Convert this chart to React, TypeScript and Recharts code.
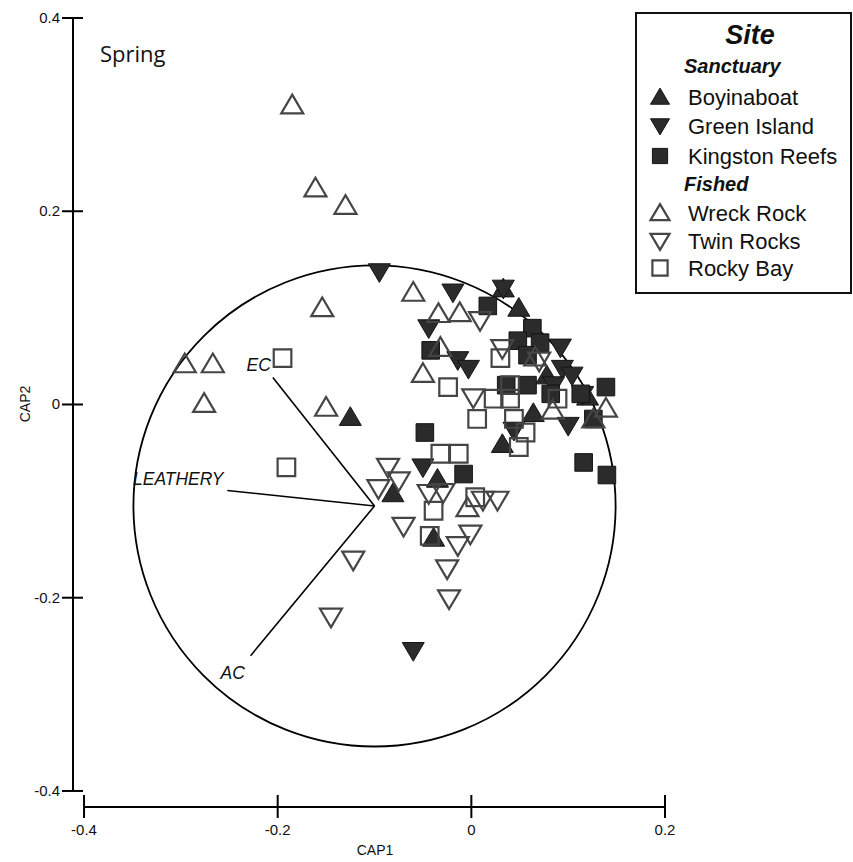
import React from 'react';
import {
  ScatterChart,
  Scatter,
  XAxis,
  YAxis,
  ReferenceLine,
  ReferenceArea,
  ReferenceDot,
} from 'recharts';

// Axis ticks
const xTicks = [-0.4, -0.2, 0, 0.2];
const yTicks = [0.4, 0.2, 0, -0.2, -0.4];

// CAP scores per site, [CAP1, CAP2]
const boyinaboat: [number, number][] = [
  [-0.125, -0.013], [-0.081, -0.092], [-0.035, -0.077], [-0.039, -0.138],
  [0.033, 0.12], [0.049, 0.1], [0.064, -0.009], [0.032, -0.041],
  [0.12, 0.008], [0.078, 0.03],
];
const greenIsland: [number, number][] = [
  [-0.095, 0.137], [-0.019, 0.116], [0.033, 0.12], [-0.044, 0.079],
  [0.092, 0.059], [-0.014, 0.046], [-0.003, 0.037], [0.094, 0.037],
  [0.104, 0.03], [0.1, -0.022], [0.044, -0.027], [-0.05, -0.065],
  [-0.06, -0.255], [0.085, 0.02], [0.115, 0.01],
];
const kingstonReefs: [number, number][] = [
  [0.017, 0.102], [0.063, 0.079], [0.048, 0.066], [0.071, 0.064],
  [-0.042, 0.056], [0.058, 0.051], [0.058, 0.02], [0.036, 0.02],
  [0.139, 0.018], [0.082, 0.011], [0.113, 0.011], [0.126, -0.015],
  [-0.048, -0.029], [0.116, -0.06], [0.14, -0.073], [-0.008, -0.072],
];
const wreckRock: [number, number][] = [
  [-0.185, 0.31], [-0.161, 0.224], [-0.13, 0.206], [-0.154, 0.1],
  [-0.296, 0.042], [-0.267, 0.042], [-0.276, 0.001], [-0.15, -0.003],
  [-0.06, 0.116], [-0.034, 0.094], [-0.012, 0.095], [-0.032, 0.059],
  [0.066, 0.049], [-0.05, 0.032], [0.139, -0.004], [0.084, -0.006],
  [0.126, -0.015], [-0.004, -0.107],
];
const twinRocks: [number, number][] = [
  [-0.086, -0.065], [-0.075, -0.079], [-0.096, -0.087], [-0.044, -0.092],
  [-0.029, -0.091], [0.012, -0.099], [0.027, -0.099], [-0.07, -0.126],
  [-0.001, -0.134], [-0.014, -0.146], [-0.025, -0.17], [-0.023, -0.201],
  [-0.122, -0.161], [-0.145, -0.22], [0.009, 0.087], [0.032, 0.058],
  [0.07, 0.045], [0.002, 0.007],
];
const rockyBay: [number, number][] = [
  [-0.195, 0.048], [-0.191, -0.065], [-0.024, 0.018], [0.04, 0.02],
  [0.023, 0.006], [0.04, 0.006], [0.089, 0.006], [0.006, -0.015],
  [0.044, -0.015], [0.056, -0.029], [0.049, -0.044], [-0.032, -0.051],
  [-0.013, -0.051], [-0.039, -0.11], [0.004, -0.096], [-0.043, -0.136],
  [0.03, 0.048],
];

// Environmental vectors (end points) and the correlation circle
const vectorNames = ['EC', 'LEATHERY', 'AC'];
const vectorEnds: [number, number][] = [
  [-0.205, 0.028], [-0.252, -0.089], [-0.228, -0.26],
];
const vectorLabelPos: [number, number][] = [
  [-0.207, 0.042], [-0.256, -0.076], [-0.2465, -0.277],
];
const circleCentre: [number, number] = [-0.1, -0.105];
const circleRadius = 0.249;

const X_MIN = -0.4114;
const Y_MIN = -0.4166;

const FONT = '"Liberation Sans", Arial, sans-serif';
const FILL_DARK = '#2b2b2b';
const OPEN_STROKE = '#454545';

const toPoints = (arr: [number, number][]) => arr.map(([x, y]) => ({ x, y }));

type Kind = 'up' | 'down' | 'square';

const markerPath = (kind: Kind, cx: number, cy: number, s: number) => {
  if (kind === 'square') {
    const h = s * 0.4;
    return `M${cx - h},${cy - h}H${cx + h}V${cy + h}H${cx - h}Z`;
  }
  const w = s / 2;
  const t = s * 0.47;
  const b = s * 0.38;
  if (kind === 'up') return `M${cx},${cy - t}L${cx + w},${cy + b}L${cx - w},${cy + b}Z`;
  return `M${cx},${cy + t}L${cx + w},${cy - b}L${cx - w},${cy - b}Z`;
};

const Marker = ({ kind, filled, cx, cy, size = 22 }: any) => (
  <path
    d={markerPath(kind, cx, cy, size)}
    fill={filled ? FILL_DARK : 'none'}
    stroke={filled ? '#151515' : OPEN_STROKE}
    strokeWidth={filled ? 1 : 2.2}
    strokeLinejoin="miter"
  />
);

const series = [
  { name: 'Boyinaboat', data: boyinaboat, kind: 'up' as Kind, filled: true },
  { name: 'Green Island', data: greenIsland, kind: 'down' as Kind, filled: true },
  { name: 'Kingston Reefs', data: kingstonReefs, kind: 'square' as Kind, filled: true },
  { name: 'Wreck Rock', data: wreckRock, kind: 'up' as Kind, filled: false },
  { name: 'Twin Rocks', data: twinRocks, kind: 'down' as Kind, filled: false },
  { name: 'Rocky Bay', data: rockyBay, kind: 'square' as Kind, filled: false },
];

const XTick = (props: any) => {
  const { x, y, payload } = props;
  return (
    <g>
      <line x1={x} x2={x} y1={y - 12} y2={y + 11} stroke="#000" strokeWidth={2} />
      <text x={x} y={y + 28} textAnchor="middle" fontSize={15} fontFamily={FONT} fill="#111">
        {String(payload.value)}
      </text>
    </g>
  );
};

const YTick = (props: any) => {
  const { x, y, payload } = props;
  return (
    <g>
      <line x1={x - 11} x2={x + 10} y1={y} y2={y} stroke="#000" strokeWidth={2} />
      <text x={x - 13} y={y + 5} textAnchor="end" fontSize={15} fontFamily={FONT} fill="#111">
        {String(payload.value)}
      </text>
    </g>
  );
};

const Ellipse = (p: any) => (
  <ellipse
    cx={p.x + p.width / 2}
    cy={p.y + p.height / 2}
    rx={Math.abs(p.width) / 2}
    ry={Math.abs(p.height) / 2}
    fill="none"
    stroke="#000"
    strokeWidth={1.8}
  />
);

const VectorLabel = (text: string, anchor: 'end' | 'middle') => (p: any) => (
  <text
    x={p.cx}
    y={p.cy + 7}
    textAnchor={anchor}
    fontSize={17.5}
    fontStyle="italic"
    fontFamily={FONT}
    fill="#111"
  >
    {text}
  </text>
);

const legendGroups = [
  { title: 'Sanctuary', items: series.slice(0, 3) },
  { title: 'Fished', items: series.slice(3) },
];

const SiteLegend = () => {
  const rowY = [52, 83, 112, 142, 170, 199, 227, 254];
  let i = 0;
  const rows: React.ReactNode[] = [];
  legendGroups.forEach((g) => {
    rows.push(
      <text key={g.title} x={47} y={rowY[i] + 7} fontSize={20} fontWeight="bold" fontStyle="italic" fontFamily={FONT} fill="#111">
        {g.title}
      </text>
    );
    i++;
    g.items.forEach((s) => {
      const cy = rowY[i];
      rows.push(
        <g key={s.name}>
          <Marker kind={s.kind} filled={s.filled} cx={23} cy={cy} size={19} />
          <text x={51} y={cy + 8} fontSize={22} fontFamily={FONT} fill="#111">
            {s.name}
          </text>
        </g>
      );
      i++;
    });
  });
  return (
    <div
      style={{
        position: 'absolute',
        left: 635,
        top: 12,
        width: 213,
        height: 278,
        border: '2px solid #111',
        background: '#fff',
      }}
    >
      <svg width={213} height={278}>
        <text x={113} y={30} textAnchor="middle" fontSize={27} fontWeight="bold" fontStyle="italic" fontFamily={FONT} fill="#111">
          Site
        </text>
        {rows}
      </svg>
    </div>
  );
};

export default function App() {
  return (
    <div style={{ position: 'absolute', left: 0, top: 0, width: 853, height: 862, background: '#fff' }}>
      <ScatterChart width={853} height={862} margin={{ top: 18, right: 188, bottom: 15, left: 13 }}>
        <XAxis
          type="number"
          dataKey="x"
          domain={[X_MIN, 0.2]}
          ticks={xTicks}
          interval={0}
          height={40}
          axisLine={false}
          tickLine={false}
          tickSize={0}
          tickMargin={0}
          tick={<XTick />}
          label={{
            content: (p: any) => {
              const vb = p.viewBox;
              return (
                <text x={vb.x + vb.width / 2 + 6} y={vb.y + 48} textAnchor="middle" fontSize={14} fontFamily={FONT} fill="#111">
                  CAP1
                </text>
              );
            },
          }}
        />
        <YAxis
          type="number"
          dataKey="y"
          domain={[Y_MIN, 0.4]}
          ticks={yTicks}
          interval={0}
          width={60}
          axisLine={false}
          tickLine={false}
          tickSize={0}
          tickMargin={0}
          tick={<YTick />}
          label={{
            content: (p: any) => {
              const vb = p.viewBox;
              const lx = vb.x + vb.width - 43;
              const ly = vb.y + 386;
              return (
                <text x={lx} y={ly} transform={`rotate(-90 ${lx} ${ly})`} textAnchor="middle" fontSize={14} fontFamily={FONT} fill="#111">
                  CAP2
                </text>
              );
            },
          }}
        />

        {/* axis lines */}
        <ReferenceLine segment={[{ x: X_MIN, y: -0.4 }, { x: X_MIN, y: 0.4 }]} stroke="#000" strokeWidth={2} />
        <ReferenceLine segment={[{ x: -0.4, y: Y_MIN }, { x: 0.2, y: Y_MIN }]} stroke="#000" strokeWidth={2} />

        {/* correlation circle */}
        <ReferenceArea
          x1={circleCentre[0] - circleRadius}
          x2={circleCentre[0] + circleRadius}
          y1={circleCentre[1] - circleRadius}
          y2={circleCentre[1] + circleRadius}
          shape={<Ellipse />}
        />

        {/* vectors */}
        {vectorEnds.map(([vx, vy], k) => (
          <ReferenceLine
            key={vectorNames[k]}
            segment={[{ x: circleCentre[0], y: circleCentre[1] }, { x: vx, y: vy }]}
            stroke="#000"
            strokeWidth={1.6}
          />
        ))}
        {vectorLabelPos.map(([lx, ly], k) => (
          <ReferenceDot
            key={'lab' + vectorNames[k]}
            x={lx}
            y={ly}
            r={0}
            shape={VectorLabel(vectorNames[k], k === 2 ? 'middle' : 'end')}
          />
        ))}

        {series.map((s) => (
          <Scatter
            key={s.name}
            name={s.name}
            data={toPoints(s.data)}
            isAnimationActive={false}
            shape={(p: any) => <Marker kind={s.kind} filled={s.filled} cx={p.cx} cy={p.cy} />}
          />
        ))}
      </ScatterChart>
      <div
        style={{
          position: 'absolute',
          left: 100,
          top: 38,
          fontFamily: '"Open Sans", sans-serif',
          fontSize: 22,
          color: '#111',
          lineHeight: '30px',
        }}
      >
        Spring
      </div>
      <SiteLegend />
    </div>
  );
}
